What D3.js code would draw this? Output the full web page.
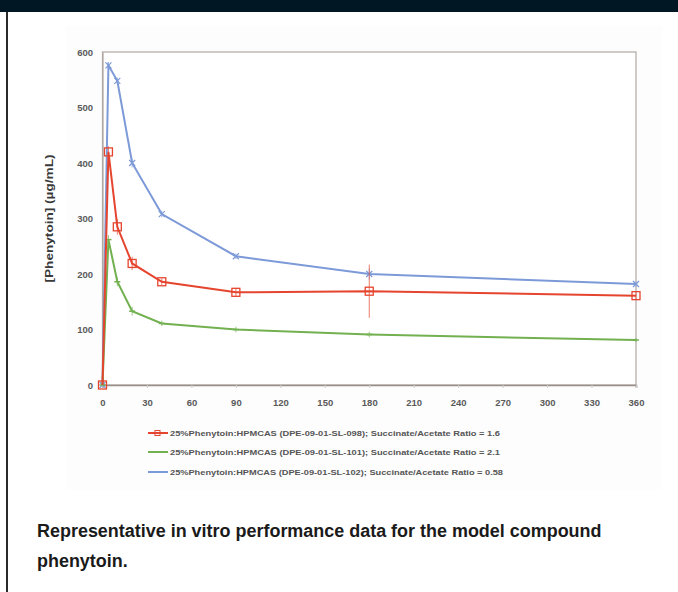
<!DOCTYPE html>
<html><head><meta charset="utf-8">
<script src="https://cdn.jsdelivr.net/npm/d3@7/dist/d3.min.js"></script>
<style>html,body{margin:0;padding:0;background:#fff;}svg{display:block;}</style>
</head><body>
<script>
const times = [0, 4, 10, 20, 40, 90, 180, 360];
const seriesNames = [
  "25%Phenytoin:HPMCAS (DPE-09-01-SL-098); Succinate/Acetate Ratio = 1.6",
  "25%Phenytoin:HPMCAS (DPE-09-01-SL-101); Succinate/Acetate Ratio = 2.1",
  "25%Phenytoin:HPMCAS (DPE-09-01-SL-102); Succinate/Acetate Ratio = 0.58"
];
const red = [0, 420, 285, 219, 186, 167, 169, 161];
const green = [0, 262, 186, 133, 111, 100, 91, 81];
const blue = [0, 576, 548, 400, 308, 232, 200, 182];
const redErr = [0, 10, 14, 12, 6, 8, 48, 6];
const greenErr = [0, 8, 8, 8, 5, 5, 5, 4];
const blueErr = [0, 6, 6, 8, 6, 5, 10, 5];
const xTicks = [0,30,60,90,120,150,180,210,240,270,300,330,360];
const yTicks = [0,100,200,300,400,500,600];
const caption = ["Representative in vitro performance data for the model compound", "phenytoin."];

const W = 678, H = 592;
const svg = d3.select("body").append("svg").attr("width", W).attr("height", H);
svg.append("rect").attr("width", W).attr("height", 12).attr("fill", "#011724");
svg.append("rect").attr("x", 6).attr("y", 12).attr("width", 2).attr("height", H-12).attr("fill", "#2a2a2a");
svg.append("rect").attr("x", 66).attr("y", 26).attr("width", 596).attr("height", 464).attr("fill", "#fdfdfd");

const x = d3.scaleLinear().domain([0, 360]).range([102.5, 636]);
const y = d3.scaleLinear().domain([0, 600]).range([385, 52]);

svg.append("rect").attr("x", x(0)).attr("y", y(600)).attr("width", x(360)-x(0)).attr("height", y(0)-y(600))
  .attr("fill", "#fff").attr("stroke", "#b0a8a4").attr("stroke-width", 1.2);

const tickFont = "Liberation Sans, Arial, sans-serif";
const gx = svg.append("g").attr("transform", `translate(0,${y(0)})`)
  .call(d3.axisBottom(x).tickValues(xTicks).tickSize(3).tickPadding(11));
gx.select(".domain").attr("stroke", "#9a8e88").attr("stroke-width", 1.6);
gx.selectAll(".tick line").attr("stroke", "#ccc");
gx.selectAll("text").attr("font-family", tickFont).attr("font-size", 9.5).attr("font-weight", "bold").attr("fill", "#5a5a5a");

const gy = svg.append("g").attr("transform", `translate(${x(0)},0)`)
  .call(d3.axisLeft(y).tickValues(yTicks).tickSize(0).tickPadding(9.5));
gy.select(".domain").attr("stroke", "#b0a8a4").attr("stroke-width", 1.2);
gy.selectAll("text").attr("font-family", tickFont).attr("font-size", 9.5).attr("font-weight", "bold").attr("fill", "#5a5a5a");

svg.append("text").attr("transform", `translate(53,${(y(0)+y(600))/2}) rotate(-90)`)
  .attr("text-anchor", "middle").attr("font-family", "Liberation Sans, Arial, sans-serif")
  .attr("font-size", 11).attr("font-weight", "bold").attr("fill", "#3a3a3a")
  .attr("textLength", 128).attr("lengthAdjust", "spacingAndGlyphs").text("[Phenytoin] (µg/mL)");

const series = [
  {vals: red, err: redErr, color: "#e5452e", marker: "square"},
  {vals: green, err: greenErr, color: "#72b050", marker: "dash"},
  {vals: blue, err: blueErr, color: "#7d9ad8", marker: "x"}
];
const line = d3.line().x(d => x(d[0])).y(d => y(d[1]));

[2,1,0].forEach(i => {
  const s = series[i];
  const pts = times.map((t, k) => [t, s.vals[k], s.err[k]]);
  const g = svg.append("g");
  g.selectAll("line.err").data(pts.filter(p => p[2] > 0)).join("line")
    .attr("x1", d => x(d[0])).attr("x2", d => x(d[0]))
    .attr("y1", d => y(d[1]-d[2])).attr("y2", d => y(d[1]+d[2]))
    .attr("stroke", s.color).attr("stroke-width", 1).attr("opacity", 0.7);
  g.append("path").datum(pts).attr("d", line).attr("fill", "none")
    .attr("stroke", s.color).attr("stroke-width", 2);
  if (s.marker === "square") {
    g.selectAll("rect").data(pts).join("rect")
      .attr("x", d => x(d[0])-4).attr("y", d => y(d[1])-4).attr("width", 8).attr("height", 8)
      .attr("fill", "none").attr("stroke", s.color).attr("stroke-width", 1.3);
  } else if (s.marker === "x") {
    g.selectAll("path.m").data(pts).join("path").attr("class", "m")
      .attr("d", d => { const cx = x(d[0]), cy = y(d[1]); return `M${cx-3},${cy-3}L${cx+3},${cy+3}M${cx-3},${cy+3}L${cx+3},${cy-3}`; })
      .attr("stroke", s.color).attr("stroke-width", 1.2);
  } else {
    g.selectAll("path.m").data(pts).join("path").attr("class", "m")
      .attr("d", d => { const cx = x(d[0]), cy = y(d[1]); return `M${cx-3},${cy}L${cx+3},${cy}`; })
      .attr("stroke", s.color).attr("stroke-width", 1.5);
  }
});

const legY = [433, 452, 472];
seriesNames.forEach((name, i) => {
  const s = series[i];
  const g = svg.append("g");
  g.append("line").attr("x1", 148).attr("x2", 168).attr("y1", legY[i]).attr("y2", legY[i])
    .attr("stroke", s.color).attr("stroke-width", 2);
  if (s.marker === "square") g.append("rect").attr("x", 155).attr("y", legY[i]-2.5).attr("width", 5).attr("height", 5).attr("fill", "none").attr("stroke", s.color);
  g.append("text").attr("x", 170).attr("y", legY[i]+2.5).attr("font-family", "Liberation Sans, Arial, sans-serif")
    .attr("font-size", 7).attr("font-weight", "bold").attr("fill", "#555")
    .attr("textLength", i === 2 ? 333 : 330).attr("lengthAdjust", "spacingAndGlyphs").text(name);
});

const capG = svg.append("g");
const capTexts = caption.map((c, i) => capG.append("text").attr("x", 0).attr("y", 537 + i*30)
    .attr("font-family", "Liberation Sans, Arial, sans-serif").attr("font-size", 18.5).attr("font-weight", "bold")
    .attr("fill", "#1a1a1a").text(c));
const natural = capTexts[0].node().getComputedTextLength();
const sx = 565 / natural;
capG.attr("transform", `translate(37,0) scale(${sx},1)`);
</script>
</body></html>
